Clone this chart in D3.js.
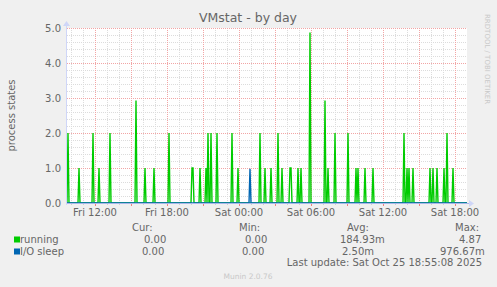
<!DOCTYPE html>
<html>
<head>
<meta charset="utf-8">
<script src="https://cdn.jsdelivr.net/npm/d3@7"></script>
<style>
  body { margin: 0; background: #f0f0f0; }
  svg { display: block; font-family: "DejaVu Sans", sans-serif; }
</style>
</head>
<body>
<div id="chart"></div>
<script>
// ---- data ----
const runningTimes = [
  '2025-10-24 09:45', '2025-10-24 10:40', '2025-10-24 11:50', '2025-10-24 12:20', '2025-10-24 13:15',
  '2025-10-24 15:25', '2025-10-24 16:10', '2025-10-24 16:55', '2025-10-24 18:10', '2025-10-24 20:05',
  '2025-10-24 20:10', '2025-10-24 20:45', '2025-10-24 21:15', '2025-10-24 21:25', '2025-10-24 21:40',
  '2025-10-24 22:10', '2025-10-24 23:25', '2025-10-24 23:55', '2025-10-25 01:45', '2025-10-25 02:10',
  '2025-10-25 02:40', '2025-10-25 03:15', '2025-10-25 03:35', '2025-10-25 04:15', '2025-10-25 04:20',
  '2025-10-25 04:55', '2025-10-25 05:10', '2025-10-25 05:55', '2025-10-25 07:10', '2025-10-25 07:25',
  '2025-10-25 08:00', '2025-10-25 09:05', '2025-10-25 09:45', '2025-10-25 09:55', '2025-10-25 10:30',
  '2025-10-25 11:10', '2025-10-25 13:45', '2025-10-25 14:00', '2025-10-25 14:10', '2025-10-25 14:30',
  '2025-10-25 15:55', '2025-10-25 16:10', '2025-10-25 16:30', '2025-10-25 17:05', '2025-10-25 17:20',
  '2025-10-25 17:50'
];
const runningValues = [
  2, 1, 2, 1, 2,
  2.93, 1, 1, 2, 1,
  1, 1, 1, 2, 2,
  2, 2, 1, 2, 1,
  1, 2, 1, 1, 1,
  1, 1, 4.87, 2.93, 1,
  2, 2, 1, 1, 1,
  1, 2, 1, 1, 1,
  1, 1, 1, 1, 2,
  1
];
const ioSleepTimes = ['2025-10-25 00:55'];
const ioSleepValues = [0.97667];

const seriesNames = ['running', 'I/O sleep'];
const seriesColors = ['#00cc00', '#0066b3'];
const legendHeaders = ['Cur:', 'Min:', 'Avg:', 'Max:'];
const legendRunning = ['0.00', '0.00', '184.93m', '4.87'];
const legendIoSleep = ['0.00', '0.00', '2.50m', '976.67m'];
const yTicks = [0, 1, 2, 3, 4, 5];

const startTime = '2025-10-24 09:40';
const endTime = '2025-10-25 19:00';

// ---- layout ----
const W = 497, H = 287;
const plot = { left: 67, right: 467, top: 28, bottom: 203 };
const parse = d3.timeParse('%Y-%m-%d %H:%M');
const step = 5 * 60 * 1000;

const x = d3.scaleTime().domain([parse(startTime), parse(endTime)]).range([plot.left, plot.right]);
const y = d3.scaleLinear().domain([0, 5]).range([plot.bottom, plot.top]);

const svg = d3.select('#chart').append('svg').attr('width', W).attr('height', H);
svg.append('rect').attr('width', W).attr('height', H).attr('fill', '#f0f0f0');
svg.append('rect')
   .attr('x', plot.left).attr('y', plot.top)
   .attr('width', plot.right - plot.left).attr('height', plot.bottom - plot.top)
   .attr('fill', '#ffffff');

/* ---
 * Grid lines: minor grey, major red, both dotted.
 */
const grid = svg.append('g');
const minorY = d3.range(0, 5.01, 0.2).filter(v => Math.abs(v - Math.round(v)) > 0.01);
minorY.forEach(v => {
  grid.append('line')
      .attr('x1', plot.left).attr('x2', plot.right)
      .attr('y1', Math.round(y(v)) + 0.5).attr('y2', Math.round(y(v)) + 0.5)
      .attr('stroke', '#dcdcdc').attr('stroke-dasharray', '1,1');
});
const hours = d3.timeHour.range(x.domain()[0], x.domain()[1]);
hours.forEach(h => {
  const major = h.getHours() % 3 === 0;
  const px = Math.round(x(h)) + 0.5;
  grid.append('line')
      .attr('x1', px).attr('x2', px)
      .attr('y1', plot.top).attr('y2', plot.bottom)
      .attr('stroke', major ? '#f2a5a5' : '#dcdcdc').attr('stroke-dasharray', '1,1');
  grid.append('line')
      .attr('x1', px).attr('x2', px)
      .attr('y1', plot.bottom).attr('y2', plot.bottom + (major ? 3 : 2))
      .attr('stroke', major ? '#f08080' : '#d0d0d0');
});
yTicks.forEach(v => {
  grid.append('line')
      .attr('x1', plot.left).attr('x2', plot.right)
      .attr('y1', Math.round(y(v)) + 0.5).attr('y2', Math.round(y(v)) + 0.5)
      .attr('stroke', '#f2a5a5').attr('stroke-dasharray', '1,1');
});

/* ---
 * Helper: turns spikes into a line path sitting on zero.
 */
function spikePoints(times, values) {
  const pts = new Map();
  const spikeSet = new Set(times.map(t => +parse(t)));
  pts.set(+x.domain()[0], 0);
  pts.set(+x.domain()[1], 0);
  times.forEach((t) => {
    const ms = +parse(t);
    [ms - step, ms + step].forEach(n => { if (!spikeSet.has(n)) pts.set(n, 0); });
  });
  times.forEach((t, i) => pts.set(+parse(t), values[i]));
  return Array.from(pts.entries()).sort((a, b) => a[0] - b[0]);
}

const line = d3.line().x(d => x(new Date(d[0]))).y(d => y(d[1]));

svg.append('path')
   .datum(spikePoints(runningTimes, runningValues))
   .attr('d', line).attr('fill', 'none')
   .attr('stroke', seriesColors[0]).attr('stroke-width', 1.4);
svg.append('path')
   .datum(spikePoints(ioSleepTimes, ioSleepValues))
   .attr('d', line).attr('fill', 'none')
   .attr('stroke', seriesColors[1]).attr('stroke-width', 1.4);

/* ---
 * Axes with arrows.
 */
const axisColor = '#a9b6ea';
svg.append('line').attr('x1', plot.left - 0.5).attr('x2', plot.right + 3)
   .attr('y1', plot.bottom + 0.5).attr('y2', plot.bottom + 0.5).attr('stroke', axisColor);
svg.append('line').attr('x1', plot.left - 0.5).attr('x2', plot.left - 0.5)
   .attr('y1', plot.bottom + 2).attr('y2', plot.top - 4).attr('stroke', '#cfd6f8');
svg.append('path').attr('d', `M${plot.right + 2},${plot.bottom - 3}L${plot.right + 7},${plot.bottom + 0.5}L${plot.right + 2},${plot.bottom + 4}Z`)
   .attr('fill', '#cfd6f8');
svg.append('path').attr('d', `M${plot.left - 4},${plot.top - 2}L${plot.left - 0.5},${plot.top - 7}L${plot.left + 3},${plot.top - 2}Z`)
   .attr('fill', '#cfd6f8');

// tick labels
svg.append('g').selectAll('text').data(yTicks).enter().append('text')
   .attr('x', 61).attr('y', d => y(d) + 3.5)
   .attr('text-anchor', 'end').attr('font-size', 10).attr('fill', '#666')
   .text(d => d.toFixed(1));

const labelHours = hours.filter(h => h.getHours() % 6 === 0);
svg.append('g').selectAll('text').data(labelHours).enter().append('text')
   .attr('x', d => x(d)).attr('y', 216)
   .attr('text-anchor', 'middle').attr('font-size', 10).attr('fill', '#666')
   .text(d => d3.timeFormat('%a %H:%M')(d));

// titles
svg.append('text').attr('x', 248).attr('y', 22).attr('text-anchor', 'middle')
   .attr('font-size', 12.5).attr('fill', '#666').text('VMstat - by day');
svg.append('text').attr('transform', 'translate(15,115.5) rotate(-90)')
   .attr('text-anchor', 'middle').attr('font-size', 10).attr('fill', '#666').text('process states');
svg.append('text').attr('transform', 'translate(485,14) rotate(90)')
   .attr('font-size', 7).attr('fill', '#c8c8c8').text('RRDTOOL / TOBI OETIKER');

/* ---
 * Legend block.
 */
const legend = svg.append('g').attr('font-size', 10).attr('fill', '#666');
const headerX = [132, 239, 347, 455];
legendHeaders.forEach((h, i) => {
  legend.append('text').attr('x', headerX[i]).attr('y', 231).text(h);
});
const rows = [legendRunning, legendIoSleep];
const rowX = [[144, 245, 340, 459], [142, 242, 342, 440]];
rows.forEach((row, r) => {
  const ry = 243 + r * 12;
  legend.append('rect').attr('x', 14).attr('y', ry - 6.5).attr('width', 6).attr('height', 6)
        .attr('fill', seriesColors[r]);
  legend.append('text').attr('x', 20).attr('y', ry).text(seriesNames[r]);
  row.forEach((v, i) => {
    legend.append('text').attr('x', rowX[r][i]).attr('y', ry).text(v);
  });
});
legend.append('text').attr('x', 482).attr('y', 266).attr('text-anchor', 'end')
      .text('Last update: Sat Oct 25 18:55:08 2025');
svg.append('text').attr('x', 248).attr('y', 279).attr('text-anchor', 'middle')
   .attr('font-size', 7.5).attr('fill', '#c8c8c8').text('Munin 2.0.76');
</script>
</body>
</html>
